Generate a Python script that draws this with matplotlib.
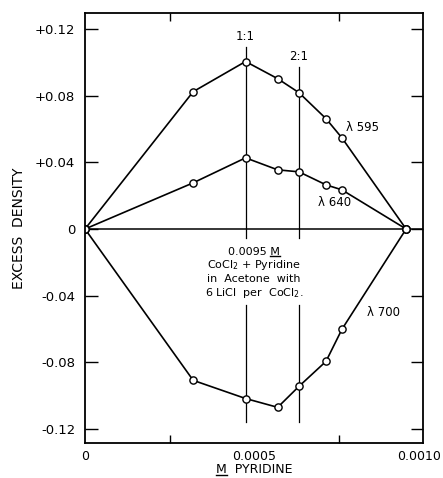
import numpy as np
import matplotlib
matplotlib.use("Agg")
import matplotlib.pyplot as plt
from matplotlib.lines import Line2D
from matplotlib.transforms import ScaledTranslation

# %% Data: excess density vs. molarity of pyridine

conc = [0, 0.00032, 0.000475, 0.00057, 0.000633, 0.000713, 0.00076, 0.00095]
d595 = [0, 0.0824, 0.1005, 0.0902, 0.0818, 0.0662, 0.0547, 0]
d640 = [0, 0.0277, 0.0427, 0.0355, 0.0343, 0.0265, 0.0235, 0]
d700 = [0, -0.0908, -0.1017, -0.107, -0.0944, -0.0794, -0.0602, 0]

ratio_x = [0.000475, 0.000633]
ratio_labels = ['1:1', '2:1']

yticks = [0.12, 0.08, 0.04, 0, -0.04, -0.08, -0.12]
ytick_labels = ['+0.12', '+0.08', '+0.04', '0', '-0.04', '-0.08', '-0.12']
xticks = [0, 0.0005, 0.001]
xtick_labels = ['0', '0.0005', '0.0010']
minor_x = [0.00025, 0.0005, 0.00075]

# %% Plot

plt.rcParams['font.family'] = 'DejaVu Sans'
fig = plt.figure(figsize=(4.43, 4.78), dpi=100)
ax = fig.add_axes([0.1919, 0.0732, 0.763, 0.8996])

ax.set_xlim(0, 0.001)
ax.set_ylim(-0.1284, 0.1296)

kw = dict(color='black', lw=1.2, marker='o', ms=5.2, mfc='white', mec='black', mew=1.0)
ax.plot(conc, d595, **kw)
ax.plot(conc, d640, **kw)
ax.plot(conc, d700, **kw)

ax.axhline(0, color='black', lw=1.1, zorder=1)

# composition lines, broken around the legend text
tops = [0.1092, 0.0972]
for xr, top, lab in zip(ratio_x, tops, ratio_labels):
    ax.plot([xr, xr], [top, -0.0054], color='black', lw=0.9, zorder=1)
    ax.plot([xr, xr], [-0.0457, -0.116], color='black', lw=0.9, zorder=1)
    ax.text(xr, top + 0.0062, lab, ha='center', va='center', fontsize=8.5)

ax.text(0.000822, 0.0612, 'λ 595', ha='center', va='center', fontsize=8.5)
ax.text(0.000737, 0.0162, 'λ 640', ha='center', va='center', fontsize=8.5)
ax.text(0.000882, -0.0498, 'λ 700', ha='center', va='center', fontsize=8.5)

tfs = 8
t1 = ax.text(0.0005, -0.0136, '0.0095 M', ha='center', va='center', fontsize=tfs)
ax.text(0.0005, -0.0218, 'CoCl$_2$ + Pyridine', ha='center', va='center', fontsize=tfs)
ax.text(0.0005, -0.0300, 'in  Acetone  with', ha='center', va='center', fontsize=tfs)
ax.text(0.0005, -0.0384, '6 LiCl  per  CoCl$_2$.', ha='center', va='center', fontsize=tfs)

ax.set_yticks(yticks)
ax.set_yticklabels(ytick_labels)
ax.set_xticks(xticks)
ax.set_xticklabels(xtick_labels)
ax.tick_params(axis='y', direction='in', length=9, width=1.0, labelsize=9.5, pad=7,
               right=True)
ax.tick_params(axis='x', direction='in', length=0, labelsize=9, pad=5)
ax.set_xticks(minor_x, minor=True)
ax.tick_params(axis='x', which='minor', direction='in', length=6, width=1.0, top=True)
for s in ax.spines.values():
    s.set_linewidth(1.3)

ax.set_ylabel('EXCESS  DENSITY', fontsize=10, labelpad=6)
xl = ax.set_xlabel('M  PYRIDINE', fontsize=9, labelpad=0)

fig.canvas.draw()

# keep the last x tick label inside the figure
last = ax.get_xticklabels()[-1]
last.set_transform(last.get_transform() + ScaledTranslation(-3 / 72, 0, fig.dpi_scale_trans))

# underline the molarity symbol in the label texts
r = fig.canvas.get_renderer()
inv = fig.transFigure.inverted()

def underline_m(txt, size, at_end):
    tmp = fig.text(0, 0, 'M', fontsize=size)
    mw = tmp.get_window_extent(r).width
    tmp.remove()
    bb = txt.get_window_extent(r)
    xa = bb.x1 - mw if at_end else bb.x0
    (x0, y0), (x1, _) = inv.transform([[xa, bb.y0 + 1], [xa + mw, bb.y0]])
    fig.add_artist(Line2D([x0, x1], [y0, y0], color='black', lw=1.0,
                          transform=fig.transFigure))

underline_m(t1, tfs, True)
underline_m(xl, 9, False)

fig.savefig('out.png', dpi=100)
